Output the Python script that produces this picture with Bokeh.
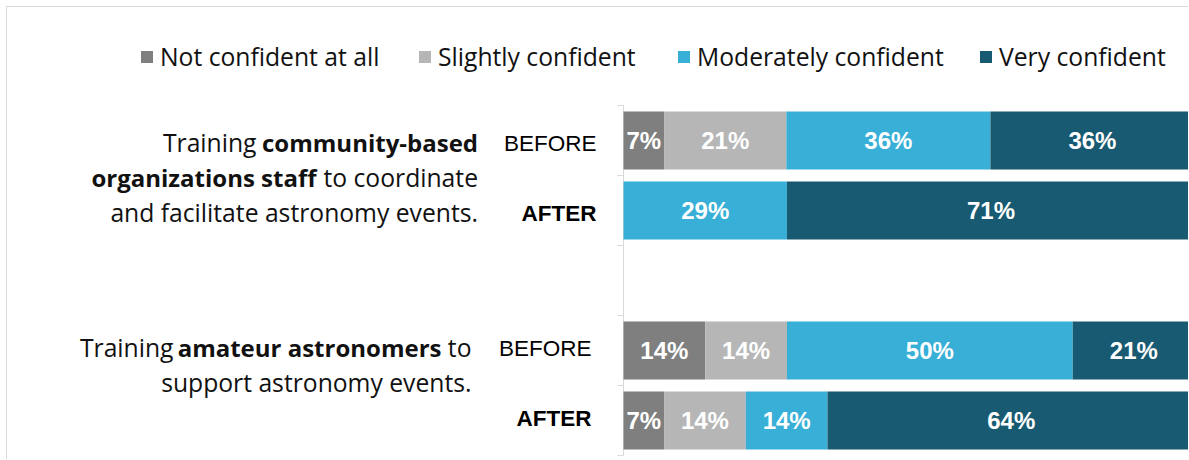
import numpy as np
from bokeh.plotting import figure
from bokeh.models import ColumnDataSource, Range1d, Label, Legend, LegendItem
from bokeh.core.properties import value
from bokeh.embed import file_html
from bokeh.resources import INLINE

# ---------------- data ----------------
row_labels = ["BEFORE", "AFTER", "BEFORE", "AFTER"]
row_bold = [False, True, False, True]
row_pos = [4, 3, 1, 0]          # slot 2 is the empty gap between the two groups
series_names = ["Not confident at all", "Slightly confident",
                "Moderately confident", "Very confident"]
not_confident = [7.1, 0.0, 14.3, 7.1]
slightly_confident = [21.4, 0.0, 14.3, 14.3]
moderately_confident = [35.7, 28.6, 50.0, 14.3]
very_confident = [35.7, 71.4, 21.4, 64.3]
series_values = [not_confident, slightly_confident, moderately_confident, very_confident]
colors = ["#7f7f7f", "#b6b6b6", "#38afd6", "#185a71"]

# ---------------- layout (page pixels) ----------------
OX, OY = 7, 7                      # canvas origin on the page
W, H = 1189 - OX, 460 - OY
ZERO_X, PX_PER_PCT = 623, 5.715    # where 0 % sits, scale of the value axis
TOP_Y, PX_PER_ROW = 105, 70        # top of row slot area, height of a row slot


def sx(page_x):
    return page_x - OX


def sy(page_y):
    return (OY + H) - page_y


x_range = Range1d((OX - ZERO_X) / PX_PER_PCT, (OX + W - ZERO_X) / PX_PER_PCT)
y_range = Range1d(4.5 - (OY + H - TOP_Y) / PX_PER_ROW, 4.5 + (TOP_Y - OY) / PX_PER_ROW)

p = figure(width=W, height=H, output_backend="svg", toolbar_location=None,
           x_range=x_range, y_range=y_range, x_axis_location=None, y_axis_location=None,
           min_border=0, tools="")
p.styles = {"margin-left": f"{OX - 1}px", "margin-top": f"{OY - 1}px",
            "border-top": "1px solid #d9d9d9", "border-left": "1px solid #d9d9d9"}
p.outline_line_color = None
p.xgrid.visible = False
p.ygrid.visible = False
p.background_fill_color = "white"
p.border_fill_color = "white"

# value-axis line with outward ticks at the row-slot boundaries
bounds = [min(row_pos) - 0.5 + i for i in range(max(row_pos) - min(row_pos) + 2)]
p.segment(x0=[0], y0=[bounds[0]], x1=[0], y1=[bounds[-1]], line_color="#d9d9d9", line_width=1)
p.ray(x=[0] * len(bounds), y=bounds, length=6, length_units="screen", angle=np.pi,
      line_color="#d9d9d9", line_width=1)

# stacked bars
lefts = [0.0] * len(row_pos)
renderers = []
lab_x, lab_y, lab_t = [], [], []
for name, vals, col in zip(series_names, series_values, colors):
    rights = [l + v for l, v in zip(lefts, vals)]
    src = ColumnDataSource(dict(y=row_pos, left=lefts, right=rights))
    r = p.hbar(y="y", left="left", right="right", height=0.83, source=src,
               fill_color=col, line_color=None)
    renderers.append(r)
    for l, rr, v, y in zip(lefts, rights, vals, row_pos):
        if v > 0:
            lab_x.append((l + rr) / 2)
            lab_y.append(y)
            lab_t.append(f"{round(v)}%")
    lefts = rights

p.text(x="x", y="y", text="t", source=ColumnDataSource(dict(x=lab_x, y=lab_y, t=lab_t)),
       text_color="white", text_font=value("Liberation Sans"), text_font_style="bold",
       text_font_size="24px", text_align="center", text_baseline="middle")

# legends (one per item, placed along the top)
legend_page_x = [139, 417, 676, 978]
for name, r, lx in zip(series_names, renderers, legend_page_x):
    lg = Legend(items=[LegendItem(label=name, renderers=[r])], location=(sx(lx), sy(73)),
                orientation="horizontal", padding=0, margin=0, spacing=0,
                glyph_width=15, glyph_height=15, label_standoff=6, label_height=15,
                border_line_color=None, background_fill_alpha=0,
                label_text_font="Open Sans", label_text_font_size="24.7px",
                label_text_color="#111111")
    p.add_layout(lg, "center")

# BEFORE / AFTER labels
row_label_page_x = [596, 596, 591, 591]
row_label_offset = [-3, -3, 2, 2]
for t, b, y, x, off in zip(row_labels, row_bold, row_pos, row_label_page_x, row_label_offset):
    p.add_layout(Label(x=sx(x), x_units="screen", y=y, y_units="data", text=t,
                       text_align="right", text_baseline="middle", y_offset=off,
                       text_font="Liberation Sans", text_font_size="22.5px",
                       text_font_style="bold" if b else "normal", text_color="black"))

# category descriptions (mixed regular / bold runs), right edges and baselines in page px
cat_runs = [
    ("Training", False, 256, 142), ("community-based", True, 477.5, 142),
    ("organizations staff", True, 316, 177), ("to coordinate", False, 477.5, 177),
    ("and facilitate astronomy events.", False, 477.5, 212),
    ("Training", False, 173, 347), ("amateur astronomers", True, 441, 347),
    ("to", False, 471, 347),
    ("support astronomy events.", False, 471, 382),
]
for t, b, x, ypage in cat_runs:
    p.add_layout(Label(x=sx(x), x_units="screen", y=sy(ypage), y_units="screen", text=t,
                       text_align="right", text_baseline="alphabetic",
                       text_font="Open Sans", text_font_size="24px" if b else "24.7px",
                       text_font_style="bold" if b else "normal", text_color="#111111"))

open("out.html", "w").write(file_html(p, INLINE))
